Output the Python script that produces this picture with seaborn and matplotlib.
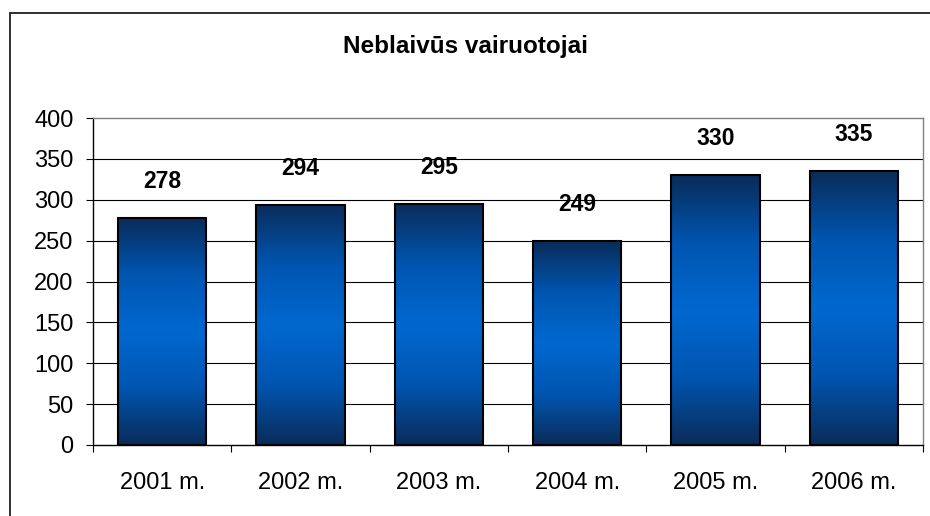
import matplotlib.pyplot as plt
import seaborn as sns
import numpy as np
import pandas as pd
from matplotlib.colors import LinearSegmentedColormap
from matplotlib.patches import Rectangle

# Data
years = ['2001 m.', '2002 m.', '2003 m.', '2004 m.', '2005 m.', '2006 m.']
values = [278, 294, 295, 249, 330, 335]
title = 'Neblaivūs vairuotojai'

df = pd.DataFrame({'year': years, 'value': values})

sns.set_style('white')
plt.rcParams['font.family'] = ['Liberation Sans', 'DejaVu Sans']
plt.rcParams['text.color'] = 'black'
plt.rcParams['xtick.color'] = 'black'
plt.rcParams['ytick.color'] = 'black'

fig = plt.figure(figsize=(9.3, 5.16), dpi=100)
ax = fig.add_axes([0.1, 0.1376, 0.8925, 0.6337])

sns.barplot(data=df, x='year', y='value', color='#0066cc', width=0.64,
            edgecolor='black', linewidth=1.5, ax=ax, zorder=3)

ax.set_ylim(0, 400)
ax.set_xlim(-0.5, len(years) - 0.5)
ax.set_yticks(range(0, 401, 50))
ax.set_xlabel('')
ax.set_ylabel('')

# gradient fill per bar
cmap = LinearSegmentedColormap.from_list('bar', ['#0a2c5a', '#0055b0', '#0068d0', '#0055b0', '#0a2c5a'])
grad = np.linspace(0, 1, 256).reshape(-1, 1)
for p in ax.patches:
    x0, y0 = p.get_x(), p.get_y()
    w, h = p.get_width(), p.get_height()
    im = ax.imshow(grad, extent=[x0, x0 + w, y0, y0 + h], aspect='auto',
                   cmap=cmap, origin='lower', zorder=2.5)
    im.set_clip_path(p)
    p.set_facecolor('none')
ax.set_ylim(0, 400)
ax.set_xlim(-0.5, len(years) - 0.5)

# value labels
ax.bar_label(ax.containers[0], labels=[str(v) for v in values], padding=18,
             fontsize=16.5, fontweight='bold')

# grid and spines
for yv in range(50, 400, 50):
    ax.axhline(yv, color='black', lw=0.8, zorder=1)
ax.spines['top'].set_color('#808080')
ax.spines['right'].set_color('#808080')
ax.spines['left'].set_color('black')
ax.spines['bottom'].set_color('black')
for s in ax.spines.values():
    s.set_linewidth(1)

ax.tick_params(axis='y', which='both', left=True, length=5, width=0.8,
               labelsize=17, pad=9)
ax.set_xticks(np.arange(-0.5, len(years), 1), minor=True)
ax.tick_params(axis='x', which='major', bottom=False, length=0, labelsize=17, pad=19.5)
ax.tick_params(axis='x', which='minor', bottom=True, length=5, width=0.8)

fig.text(0.5, 0.897, title, ha='center', va='baseline', fontsize=17.5, fontweight='bold')

# outer chart border
fig.patches.append(Rectangle((10 / 930, -0.05), 1.1, 1 - 13 / 516 + 0.05,
                             transform=fig.transFigure, fill=False,
                             edgecolor='#202020', linewidth=1.3, clip_on=False))

fig.savefig('out.png', dpi=100)
